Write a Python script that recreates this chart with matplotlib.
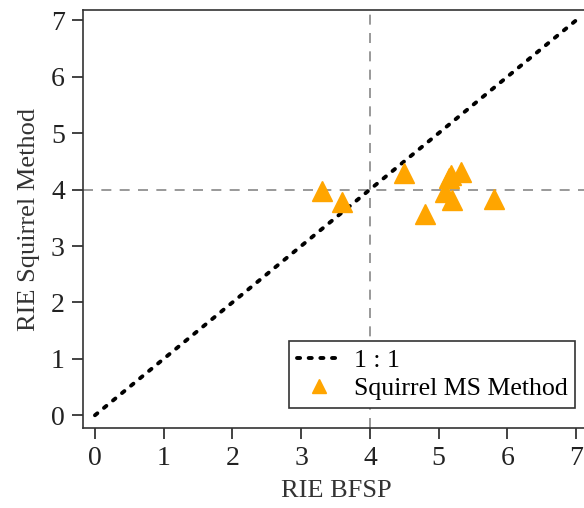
import numpy as np
import matplotlib.pyplot as plt

plt.rcParams['font.family'] = ['Liberation Serif', 'DejaVu Serif']

# values
bfsp = [3.3, 3.6, 4.5, 4.8, 5.1, 5.2, 5.15, 5.18, 5.33, 5.8]
squirrel = [3.97, 3.78, 4.3, 3.57, 3.95, 3.82, 4.2, 4.25, 4.31, 3.83]
ticks = [0, 1, 2, 3, 4, 5, 6, 7]
ref_value = 4

fig = plt.figure(figsize=(5.84, 5.08), dpi=100)
ax = fig.add_axes([0.142, 0.157, 0.868, 0.823])

ax.axvline(ref_value, color='#888888', ls=(0, (6, 5)), lw=1.2, zorder=1)
ax.axhline(ref_value, color='#888888', ls=(0, (6, 5)), lw=1.2, zorder=1)

one_to_one = np.array([0, 7])
ax.plot(one_to_one, one_to_one, color='black', ls=(0, (0.8, 2.2)), lw=2.8,
        dash_capstyle='round', label='1 : 1', zorder=2)
ax.plot(bfsp, squirrel, ls='none', marker='^', ms=14, color='#FFA500',
        label='Squirrel MS Method', zorder=3)

ax.set_xlim(-0.175, 7.2)
ax.set_ylim(-0.23, 7.18)
ax.set_xticks(ticks)
ax.set_yticks(ticks)
ax.tick_params(direction='out', length=8, width=1.2, labelsize=20,
               pad=5, colors='#222222')
for s in ax.spines.values():
    s.set_linewidth(1.2)
    s.set_color('#333333')

ax.set_xlabel('RIE BFSP', fontsize=19, color='#333333', labelpad=6)
ax.set_ylabel('RIE Squirrel Method', fontsize=19, color='#333333', labelpad=8)

leg = ax.legend(loc='lower right', bbox_to_anchor=(0.985, 0.197),
                bbox_transform=fig.transFigure, fontsize=18.6, fancybox=False,
                handlelength=1.7, handletextpad=0.5, borderpad=0.3,
                labelspacing=0.2, borderaxespad=0, markerscale=0.7,
                framealpha=1)
leg.get_frame().set_edgecolor('#333333')
leg.get_frame().set_linewidth(1.2)

fig.savefig('out.png', dpi=100)
